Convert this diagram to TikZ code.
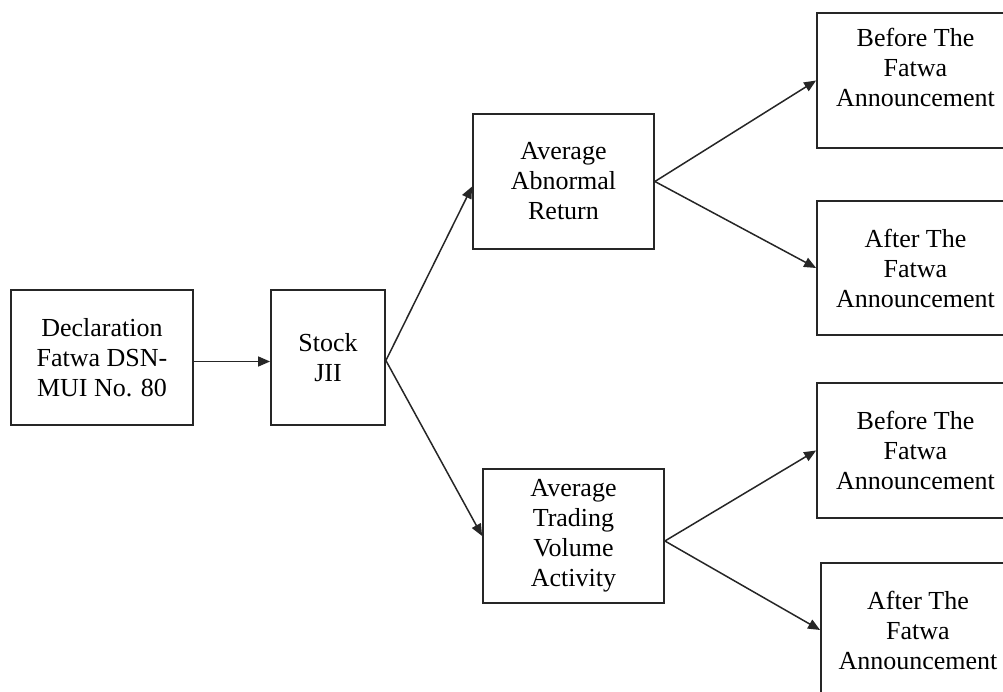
\documentclass[tikz,border=0pt]{standalone}
\usepackage{fontspec}
\setmainfont{Liberation Serif}
\usetikzlibrary{arrows.meta}
\tikzstyle{block} = [rectangle, minimum width=182pt, minimum height=135pt, align=center, line width=1.8pt, draw=black!85, inner sep=0pt, font=\fontsize{26}{30}\selectfont]
\tikzstyle{arrow} = [-{Triangle[length=12pt,width=10pt]}, line width=1.5pt, draw=black!85]
\newcommand{\rightw}{197pt}

\begin{document}
\begin{tikzpicture}[x=1pt, y=-1pt]
  \useasboundingbox (0,0) rectangle (1003,692);
  \clip (0,0) rectangle (1003,692);

  % Left blocks
  \node [block]                      (decl)  at (102,357.5) {Declaration\\Fatwa DSN-\\MUI No. 80};
  \node [block, minimum width=114pt] (stock) at (328,357.5) {Stock\\JII};

  % Middle blocks
  \node [block, minimum width=181pt] (aar)  at (563.5,181.5) {Average\\Abnormal\\Return};
  \node [block, minimum width=181pt, minimum height=134pt] (atva) at (573.5,536) {Average\\Trading\\Volume\\Activity};

  % Right blocks
  \node [block, minimum width=\rightw, text depth=27pt] (aarBefore) at (915.5,80.5) {Before The\\Fatwa\\Announcement};
  \node [block, minimum width=\rightw, minimum height=134pt] (aarAfter) at (915.5,268) {After The\\Fatwa\\Announcement};
  \node [block, minimum width=\rightw] (atvaBefore) at (915.5,450.5) {Before The\\Fatwa\\Announcement};
  \node [block, minimum width=194pt, minimum height=134pt] (atvaAfter) at (918,630) {After The\\Fatwa\\Announcement};

  % Arrows
  \draw [arrow] ([yshift=-4pt]decl.east) -- ([yshift=-4pt]stock.west);
  \draw [arrow] ([yshift=-3pt]stock.east) -- ([yshift=-5pt]aar.west);
  \draw [arrow] ([yshift=-3pt]stock.east) -- (atva.west);

  \draw [arrow] (aar.east) -- (aarBefore.west);
  \draw [arrow] (aar.east) -- (aarAfter.west);

  \draw [arrow] ([yshift=-5pt]atva.east) -- (atvaBefore.west);
  \draw [arrow] ([yshift=-5pt]atva.east) -- (atvaAfter.west);

\end{tikzpicture}
\end{document}
